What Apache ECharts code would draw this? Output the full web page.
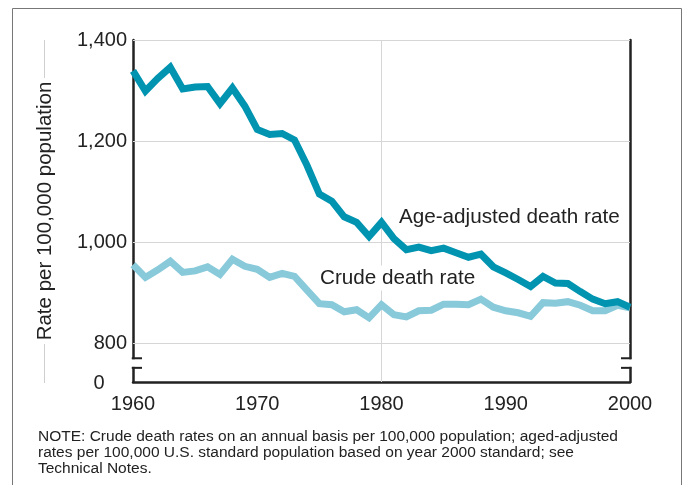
<!DOCTYPE html>
<html>
<head>
<meta charset="utf-8">
<script src="https://cdn.jsdelivr.net/npm/echarts@6/dist/echarts.min.js"></script>
<style>
body { margin: 0; background: #fff; }
#chart { width: 686px; height: 485px; }
</style>
</head>
<body>
<div id="chart"></div>
<script>
// years on the x axis
const years = [1960, 1961, 1962, 1963, 1964, 1965, 1966, 1967, 1968, 1969,
  1970, 1971, 1972, 1973, 1974, 1975, 1976, 1977, 1978, 1979,
  1980, 1981, 1982, 1983, 1984, 1985, 1986, 1987, 1988, 1989,
  1990, 1991, 1992, 1993, 1994, 1995, 1996, 1997, 1998, 1999, 2000];
// age-adjusted death rate (per 100,000)
const ageAdjusted = [1339, 1299, 1324, 1346, 1303, 1307, 1308, 1274, 1305, 1269,
  1223, 1213, 1215, 1202, 1152, 1095, 1081, 1050, 1039, 1011,
  1039, 1007, 985, 990, 983, 988, 979, 970, 976, 951,
  939, 926, 912, 932, 919, 918, 902, 887, 878, 882, 871];
// crude death rate (per 100,000)
const crude = [955, 930, 945, 962, 940, 943, 951, 936, 966, 952,
  946, 930, 938, 932, 905, 878, 876, 862, 866, 850,
  876, 856, 852, 864, 865, 877, 877, 876, 887, 871,
  864, 860, 853, 880, 879, 882, 875, 864, 864, 875, 870];
// tick labels / grid lines
const yTicks = [800, 1000, 1200, 1400];
const vGrid = [1980];

const NOTE = 'NOTE: Crude death rates on an annual basis per 100,000 population; aged-adjusted\n' +
  'rates per 100,000 U.S. standard population based on year 2000 standard; see\n' +
  'Technical Notes.';

const FONT = '"Liberation Sans", Arial, Helvetica, sans-serif';
const INK = '#222';
const GRID_C = '#d6d6d6';

const chart = echarts.init(document.getElementById('chart'));

const pairs = (vals) => years.map((y, i) => [y, vals[i]]);

const option = {
  animation: false,
  textStyle: { fontFamily: FONT },
  grid: { left: 133, right: 56, top: 40, bottom: 103 },
  xAxis: {
    type: 'value',
    min: 1960,
    max: 2000,
    interval: 10,
    axisLine: { lineStyle: { color: INK, width: 2.5 } },
    axisTick: { show: false },
    splitLine: { show: false },
    axisLabel: { color: INK, fontSize: 20, margin: 12, fontFamily: FONT, formatter: (v) => String(v) }
  },
  yAxis: [
    {
      type: 'value',
      position: 'left',
      min: 723,
      max: 1400,
      axisLine: { show: true, lineStyle: { color: INK, width: 2.5 } },
      axisTick: { show: false },
      splitLine: { show: false },
      axisLabel: {
        customValues: yTicks,
        color: INK,
        fontSize: 20,
        margin: 6,
        fontFamily: FONT,
        formatter: (v) => v.toLocaleString('en-US')
      },
      name: 'Rate per 100,000 population',
      nameLocation: 'middle',
      nameGap: 77,
      nameTextStyle: { color: INK, fontSize: 20.5, fontFamily: FONT }
    },
    {
      type: 'value',
      position: 'right',
      min: 723,
      max: 1400,
      axisLine: { show: true, lineStyle: { color: INK, width: 2.5 } },
      axisTick: { show: false },
      axisLabel: { show: false },
      splitLine: { show: false }
    }
  ],
  series: [
    {
      name: 'grid',
      type: 'line',
      data: pairs(crude),
      symbol: 'none',
      lineStyle: { opacity: 0 },
      silent: true,
      z: 1,
      markLine: {
        z: 1,
        silent: true,
        symbol: 'none',
        animation: false,
        label: { show: false },
        lineStyle: { color: GRID_C, width: 1, type: 'solid' },
        data: yTicks.map(v => ({ yAxis: v })).concat(vGrid.map(v => ({ xAxis: v })))
      }
    },
    {
      name: 'Crude death rate',
      type: 'line',
      data: pairs(crude),
      symbol: 'none',
      z: 3,
      lineStyle: { color: '#88c9da', width: 7, join: 'miter' }
    },
    {
      name: 'Age-adjusted death rate',
      type: 'line',
      data: pairs(ageAdjusted),
      symbol: 'none',
      z: 4,
      lineStyle: { color: '#0094b1', width: 7, join: 'miter' }
    }
  ]
};
chart.setOption(option);

// decorations: axis break brackets, "0" label, line labels, note, frame
const px = (x, y) => chart.convertToPixel({ gridIndex: 0 }, [x, y]);
const [xl, yBottom] = px(1960, 723);
const [xr] = px(2000, 723);
const yBrkTop = px(1960, 770)[1];
const yBrkBot = px(1960, 751)[1];
const ageLab = px(1981.4, 1050);
const crudeLab = px(1975.05, 929);

const brk = [];
[[xl, 1], [xr, -1]].forEach(([x, dir]) => {
  brk.push({
    type: 'rect', z: 100,
    shape: { x: x - 2, y: yBrkTop + 1, width: 4, height: yBrkBot - yBrkTop - 2 },
    style: { fill: '#fff' }
  });
  [yBrkTop, yBrkBot].forEach(y => {
    brk.push({
      type: 'line', z: 101,
      shape: { x1: x - dir * 1.25, y1: y, x2: x + dir * 9, y2: y },
      style: { stroke: INK, lineWidth: 2 }
    });
  });
});

chart.setOption({
  graphic: brk.concat([
    {
      type: 'rect', z: 0, silent: true,
      shape: { x: 12.5, y: 8.5, width: 669, height: 520 },
      style: { fill: 'none', stroke: '#777', lineWidth: 1 }
    },
    {
      type: 'line', z: 0,
      shape: { x1: 44.5, y1: 40, x2: 44.5, y2: 78 },
      style: { stroke: '#cfcfcf', lineWidth: 1 }
    },
    {
      type: 'line', z: 0,
      shape: { x1: 44.5, y1: 344, x2: 44.5, y2: 383 },
      style: { stroke: '#cfcfcf', lineWidth: 1 }
    },
    {
      type: 'text', z: 100,
      x: xl - 34, y: yBottom + 1,
      style: { text: '0', fill: INK, font: '20px ' + FONT, align: 'center', verticalAlign: 'middle' }
    },
    {
      type: 'text', z: 100,
      x: ageLab[0], y: ageLab[1],
      style: { text: 'Age-adjusted death rate', fill: INK, font: '20.7px ' + FONT, align: 'left', verticalAlign: 'middle' }
    },
    {
      type: 'text', z: 100,
      x: crudeLab[0] - 4, y: crudeLab[1],
      style: {
        text: 'Crude death rate', fill: INK, font: '20.7px ' + FONT, align: 'left', verticalAlign: 'middle',
        backgroundColor: '#fff', padding: [2, 4]
      }
    },
    {
      type: 'text', z: 100,
      x: 38, y: 429,
      style: { text: NOTE, fill: INK, font: '15.5px ' + FONT, lineHeight: 16, align: 'left', verticalAlign: 'top' }
    }
  ])
});
</script>
</body>
</html>
